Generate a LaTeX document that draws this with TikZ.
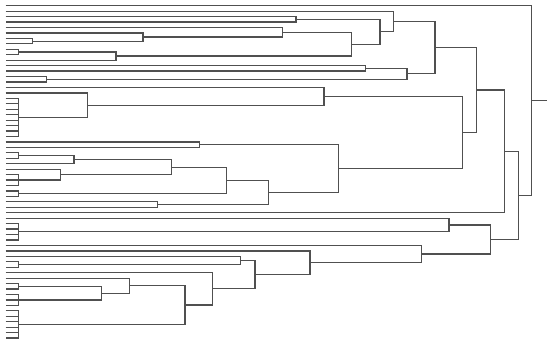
\documentclass[tikz,border=0pt]{standalone}
\begin{document}
\begin{tikzpicture}[x=0.02cm,y=-0.109cm,
  link/.style={draw={rgb,255:red,80;green,80;blue,80},line width=0.7pt}]
\useasboundingbox (0,-0.046) rectangle (550,62.89);
% leaves
\foreach \i in {1,...,62} \coordinate (l\i) at (5.5,\i);
% internal nodes (x in px, y in leaf units)
\coordinate (B) at (296,3.5);
\coordinate (C1) at (32.5,7.5);
\coordinate (D) at (143,6.75);
\coordinate (H) at (282.3,5.875);
\coordinate (E) at (18.3,9.5);
\coordinate (F) at (116,10.25);
\coordinate (I) at (351.7,8.0625);
\coordinate (J) at (380,5.78125);
\coordinate (K) at (393.3,3.890625);
\coordinate (M) at (365.7,12.5);
\coordinate (G) at (46.7,14.5);
\coordinate (N) at (407,13.5);
\coordinate (O) at (435,8.6953);
\coordinate (P) at (18.3,21.5);
\coordinate (Q) at (87.7,19.25);
\coordinate (R) at (324,17.625);
\coordinate (Y) at (199.3,26.5);
\coordinate (AG) at (18.3,28.5);
\coordinate (AE) at (74,29.25);
\coordinate (AH) at (18.3,33);
\coordinate (AF) at (60.7,32);
\coordinate (AC) at (171.7,30.625);
\coordinate (AD) at (18.3,35.5);
\coordinate (AA) at (226.7,33.0625);
\coordinate (AB) at (157.3,37.5);
\coordinate (Z) at (268.3,35.28);
\coordinate (X) at (338.3,30.89);
\coordinate (T) at (462.7,24.258);
\coordinate (S) at (476.7,16.477);
\coordinate (U) at (504.3,27.74);
\coordinate (AK) at (18.3,42.5);
\coordinate (AI) at (449,41.25);
\coordinate (AO) at (18.3,48.5);
\coordinate (AN) at (240.7,47.75);
\coordinate (AT) at (18.3,52.5);
\coordinate (AU) at (18.3,55);
\coordinate (AS) at (101.7,53.75);
\coordinate (AR) at (129.7,52.375);
\coordinate (AV) at (18.3,59.5);
\coordinate (AQ) at (185,55.94);
\coordinate (AP) at (212.3,52.97);
\coordinate (AM) at (255,50.36);
\coordinate (AL) at (310,48.18);
\coordinate (AJ) at (421.7,46.59);
\coordinate (W) at (490.7,43.92);
\coordinate (V) at (518.3,35.83);
\coordinate (root) at (531.7,18.41);
\coordinate (rootend) at (546.7,18.41);
% binary joins
\foreach \n/\a/\b in {B/l3/l4, C1/l7/l8, D/l6/C1, H/l5/D, E/l9/l10, F/E/l11,
  I/H/F, J/B/I, K/l2/J, M/l12/l13, G/l14/l15, N/M/G, O/K/N,
  Q/l17/P, R/l16/Q, Y/l26/l27, AG/l28/l29, AE/AG/l30, AF/l31/AH, AC/AE/AF,
  AD/l35/l36, AA/AC/AD, AB/l37/l38, Z/AA/AB, X/Y/Z, T/R/X, S/O/T, U/S/l39,
  AI/l40/AK, AO/l48/l49, AN/l47/AO, AT/l52/l53, AS/AT/AU, AR/l51/AS,
  AQ/AR/AV, AP/l50/AQ, AM/AN/AP, AL/l46/AM, AJ/l45/AL, W/AI/AJ, V/U/W,
  root/l1/V}
  \draw[link] (\a) -| (\n) |- (\b);
% flat clusters
\draw[link] (l18) -| (P) |- (l25);
\foreach \i in {19,...,24} \draw[link] (l\i) -| (P);
\draw[link] (l32) -| (AH) |- (l34);
\draw[link] (l33) -| (AH);
\draw[link] (l41) -| (AK) |- (l44);
\foreach \i in {42,43} \draw[link] (l\i) -| (AK);
\draw[link] (l54) -| (AU) |- (l56);
\draw[link] (l55) -| (AU);
\draw[link] (l57) -| (AV) |- (l62);
\foreach \i in {58,...,61} \draw[link] (l\i) -| (AV);
\draw[link] (root) -- (rootend);
\end{tikzpicture}
\end{document}
